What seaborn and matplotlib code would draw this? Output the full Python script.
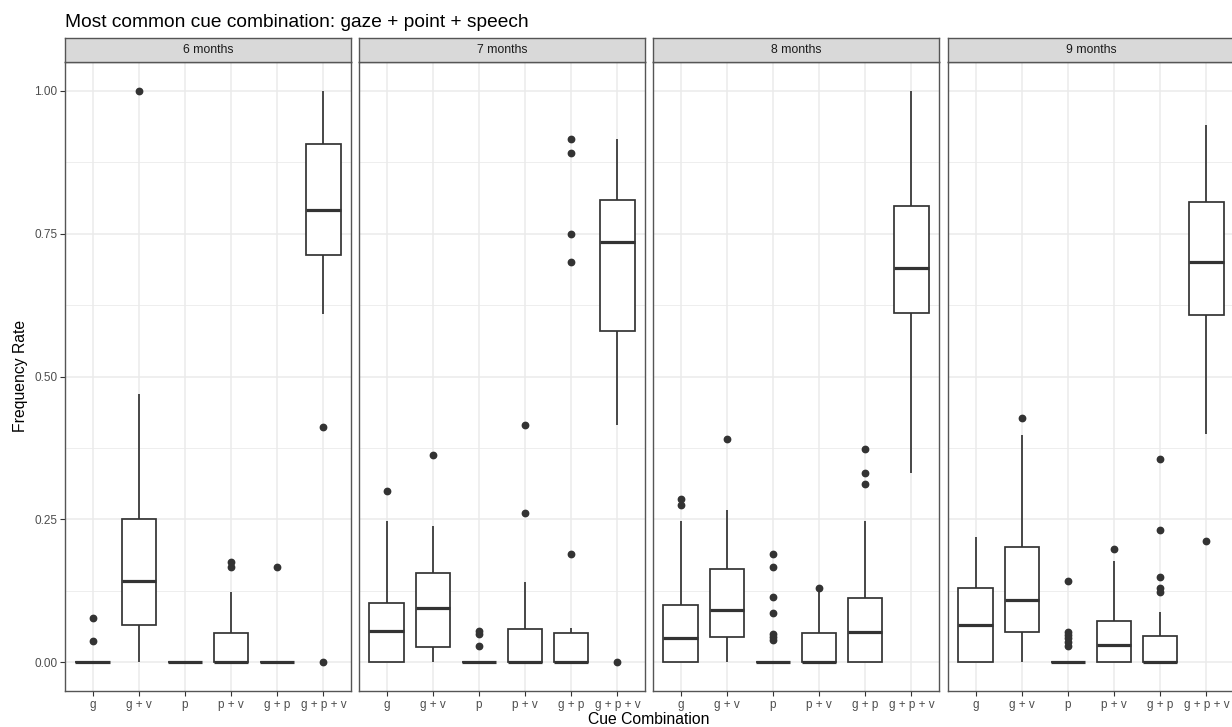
import numpy as np
import pandas as pd
import matplotlib
matplotlib.use('Agg')
import matplotlib.pyplot as plt
import seaborn as sns

# categories
CUES = ['g', 'g + v', 'p', 'p + v', 'g + p', 'g + p + v']
AGES = ['6 months', '7 months', '8 months', '9 months']

# box summaries, one row per age, one column per cue
WHISK_LO = [[0, 0, 0, 0, 0, 0.610],
            [0, 0, 0, 0, 0, 0.415],
            [0, 0, 0, 0, 0, 0.332],
            [0, 0, 0, 0, 0, 0.399]]
Q1 = [[0, 0.066, 0, 0, 0, 0.713],
      [0, 0.027, 0, 0, 0, 0.579],
      [0, 0.045, 0, 0, 0, 0.611],
      [0, 0.054, 0, 0, 0, 0.607]]
MEDIAN = [[0, 0.142, 0, 0, 0, 0.791],
          [0.055, 0.095, 0, 0, 0, 0.736],
          [0.042, 0.092, 0, 0, 0.054, 0.689],
          [0.066, 0.110, 0, 0.031, 0, 0.700]]
Q3 = [[0, 0.250, 0, 0.052, 0, 0.907],
      [0.104, 0.156, 0, 0.058, 0.052, 0.808],
      [0.100, 0.164, 0, 0.051, 0.112, 0.798],
      [0.130, 0.201, 0, 0.072, 0.046, 0.805]]
WHISK_HI = [[0, 0.469, 0, 0.123, 0, 1.000],
            [0.248, 0.238, 0, 0.141, 0.061, 0.916],
            [0.248, 0.267, 0, 0.125, 0.248, 1.000],
            [0.220, 0.398, 0, 0.177, 0.089, 0.939]]

# outlying points per cue
OUTLIERS_6M = [[0.077, 0.037], [1.0], [], [0.175, 0.166], [0.166], [0.411, 0.0]]
OUTLIERS_7M = [[0.299], [0.362], [0.055, 0.050, 0.028], [0.262, 0.415],
               [0.190, 0.700, 0.750, 0.890, 0.916], [0.0]]
OUTLIERS_8M = [[0.286, 0.276], [0.390], [0.190, 0.167, 0.115, 0.087, 0.050, 0.045, 0.040],
               [0.131], [0.312, 0.332, 0.374], []]
OUTLIERS_9M = [[], [0.428], [0.143, 0.053, 0.048, 0.043, 0.036, 0.029], [0.199],
               [0.124, 0.131, 0.149, 0.232, 0.356], [0.213]]
OUTLIERS = [OUTLIERS_6M, OUTLIERS_7M, OUTLIERS_8M, OUTLIERS_9M]


def sample_from_summary(lo, q1, med, q3, hi, outs):
    """Smallest sample (4m+1 points) whose box stats are the ones given."""
    low_out = [v for v in outs if v < q1]
    high_out = [v for v in outs if v >= q1]
    m = max(len(low_out), len(high_out)) + 2
    part1 = low_out + [lo] + [q1] * (m - len(low_out))
    part2 = [med] * m
    part3 = [q3] * m
    part4 = [q3] * (m - 1 - len(high_out)) + [hi] + high_out
    return part1 + part2 + part3 + part4


rows = []
for i, age in enumerate(AGES):
    for j, cue in enumerate(CUES):
        vals = sample_from_summary(WHISK_LO[i][j], Q1[i][j], MEDIAN[i][j],
                                   Q3[i][j], WHISK_HI[i][j], OUTLIERS[i][j])
        for v in vals:
            rows.append((age, cue, v))
df = pd.DataFrame(rows, columns=['age', 'cue', 'rate'])

sns.set_theme(style='white')
plt.rcParams['font.family'] = ['Liberation Sans', 'DejaVu Sans']

W, H = 1232, 727
fig = plt.figure(figsize=(W / 100, H / 100), dpi=100)
fig.patch.set_facecolor('white')

DARK = '#333333'
GRID = '#ebebeb'
panel_left = [65, 359, 653, 948]
panel_w = 286
panel_top, panel_bot = 62, 691
strip_top = 38

for i, age in enumerate(AGES):
    L = panel_left[i]
    ax = fig.add_axes([L / W, (H - panel_bot) / H, panel_w / W, (panel_bot - panel_top) / H])
    sub = df[df['age'] == age]
    sns.boxplot(data=sub, x='cue', y='rate', order=CUES, ax=ax,
                color='white', linecolor=DARK, linewidth=1.25, width=0.75,
                fliersize=4.6, showcaps=False, whis=1.5,
                flierprops=dict(marker='o', markerfacecolor=DARK, markeredgecolor=DARK),
                medianprops=dict(color=DARK, linewidth=2.3))
    ax.set_xlim(-0.6, 5.6)
    ax.set_ylim(-0.05, 1.05)
    ax.set_yticks([0, 0.25, 0.5, 0.75, 1.0])
    ax.set_yticks([0.125, 0.375, 0.625, 0.875], minor=True)
    ax.grid(True, which='major', color=GRID, linewidth=1.1)
    ax.grid(True, which='minor', axis='y', color=GRID, linewidth=0.6)
    ax.set_axisbelow(True)
    ax.set_xlabel('')
    ax.set_ylabel('')
    ax.tick_params(axis='x', which='major', length=3.5, width=0.8, color=DARK,
                   labelsize=8.5, labelcolor='#4d4d4d', pad=2.5, bottom=True)
    ax.tick_params(axis='y', which='minor', length=0)
    if i == 0:
        ax.set_yticklabels(['0.00', '0.25', '0.50', '0.75', '1.00'])
        ax.tick_params(axis='y', which='major', length=3.5, width=0.8, color=DARK,
                       labelsize=8.5, labelcolor='#4d4d4d', pad=2, left=True)
    else:
        ax.tick_params(axis='y', which='major', length=0, labelleft=False)
    for sp in ax.spines.values():
        sp.set_color('#555555')
        sp.set_linewidth(1.0)

    # facet strip
    sx = fig.add_axes([L / W, (H - panel_top) / H, panel_w / W, (panel_top - strip_top) / H])
    sx.set_facecolor('#d9d9d9')
    sx.set_xticks([])
    sx.set_yticks([])
    for sp in sx.spines.values():
        sp.set_color('#555555')
        sp.set_linewidth(1.0)
    sx.text(0.5, 0.5, age, ha='center', va='center', fontsize=8.8, color='#1a1a1a',
            transform=sx.transAxes)

fig.text(65 / W, 1 - 27 / H, 'Most common cue combination: gaze + point + speech',
         ha='left', va='baseline', fontsize=13.8, color='black')
fig.text(21 / W, 1 - 376 / H, 'Frequency Rate', rotation=90, ha='center', va='center',
         fontsize=11.3, color='black')
fig.text(649 / W, 1 - 719 / H, 'Cue Combination', ha='center', va='center',
         fontsize=11.3, color='black')

fig.savefig('out.png', dpi=100)
